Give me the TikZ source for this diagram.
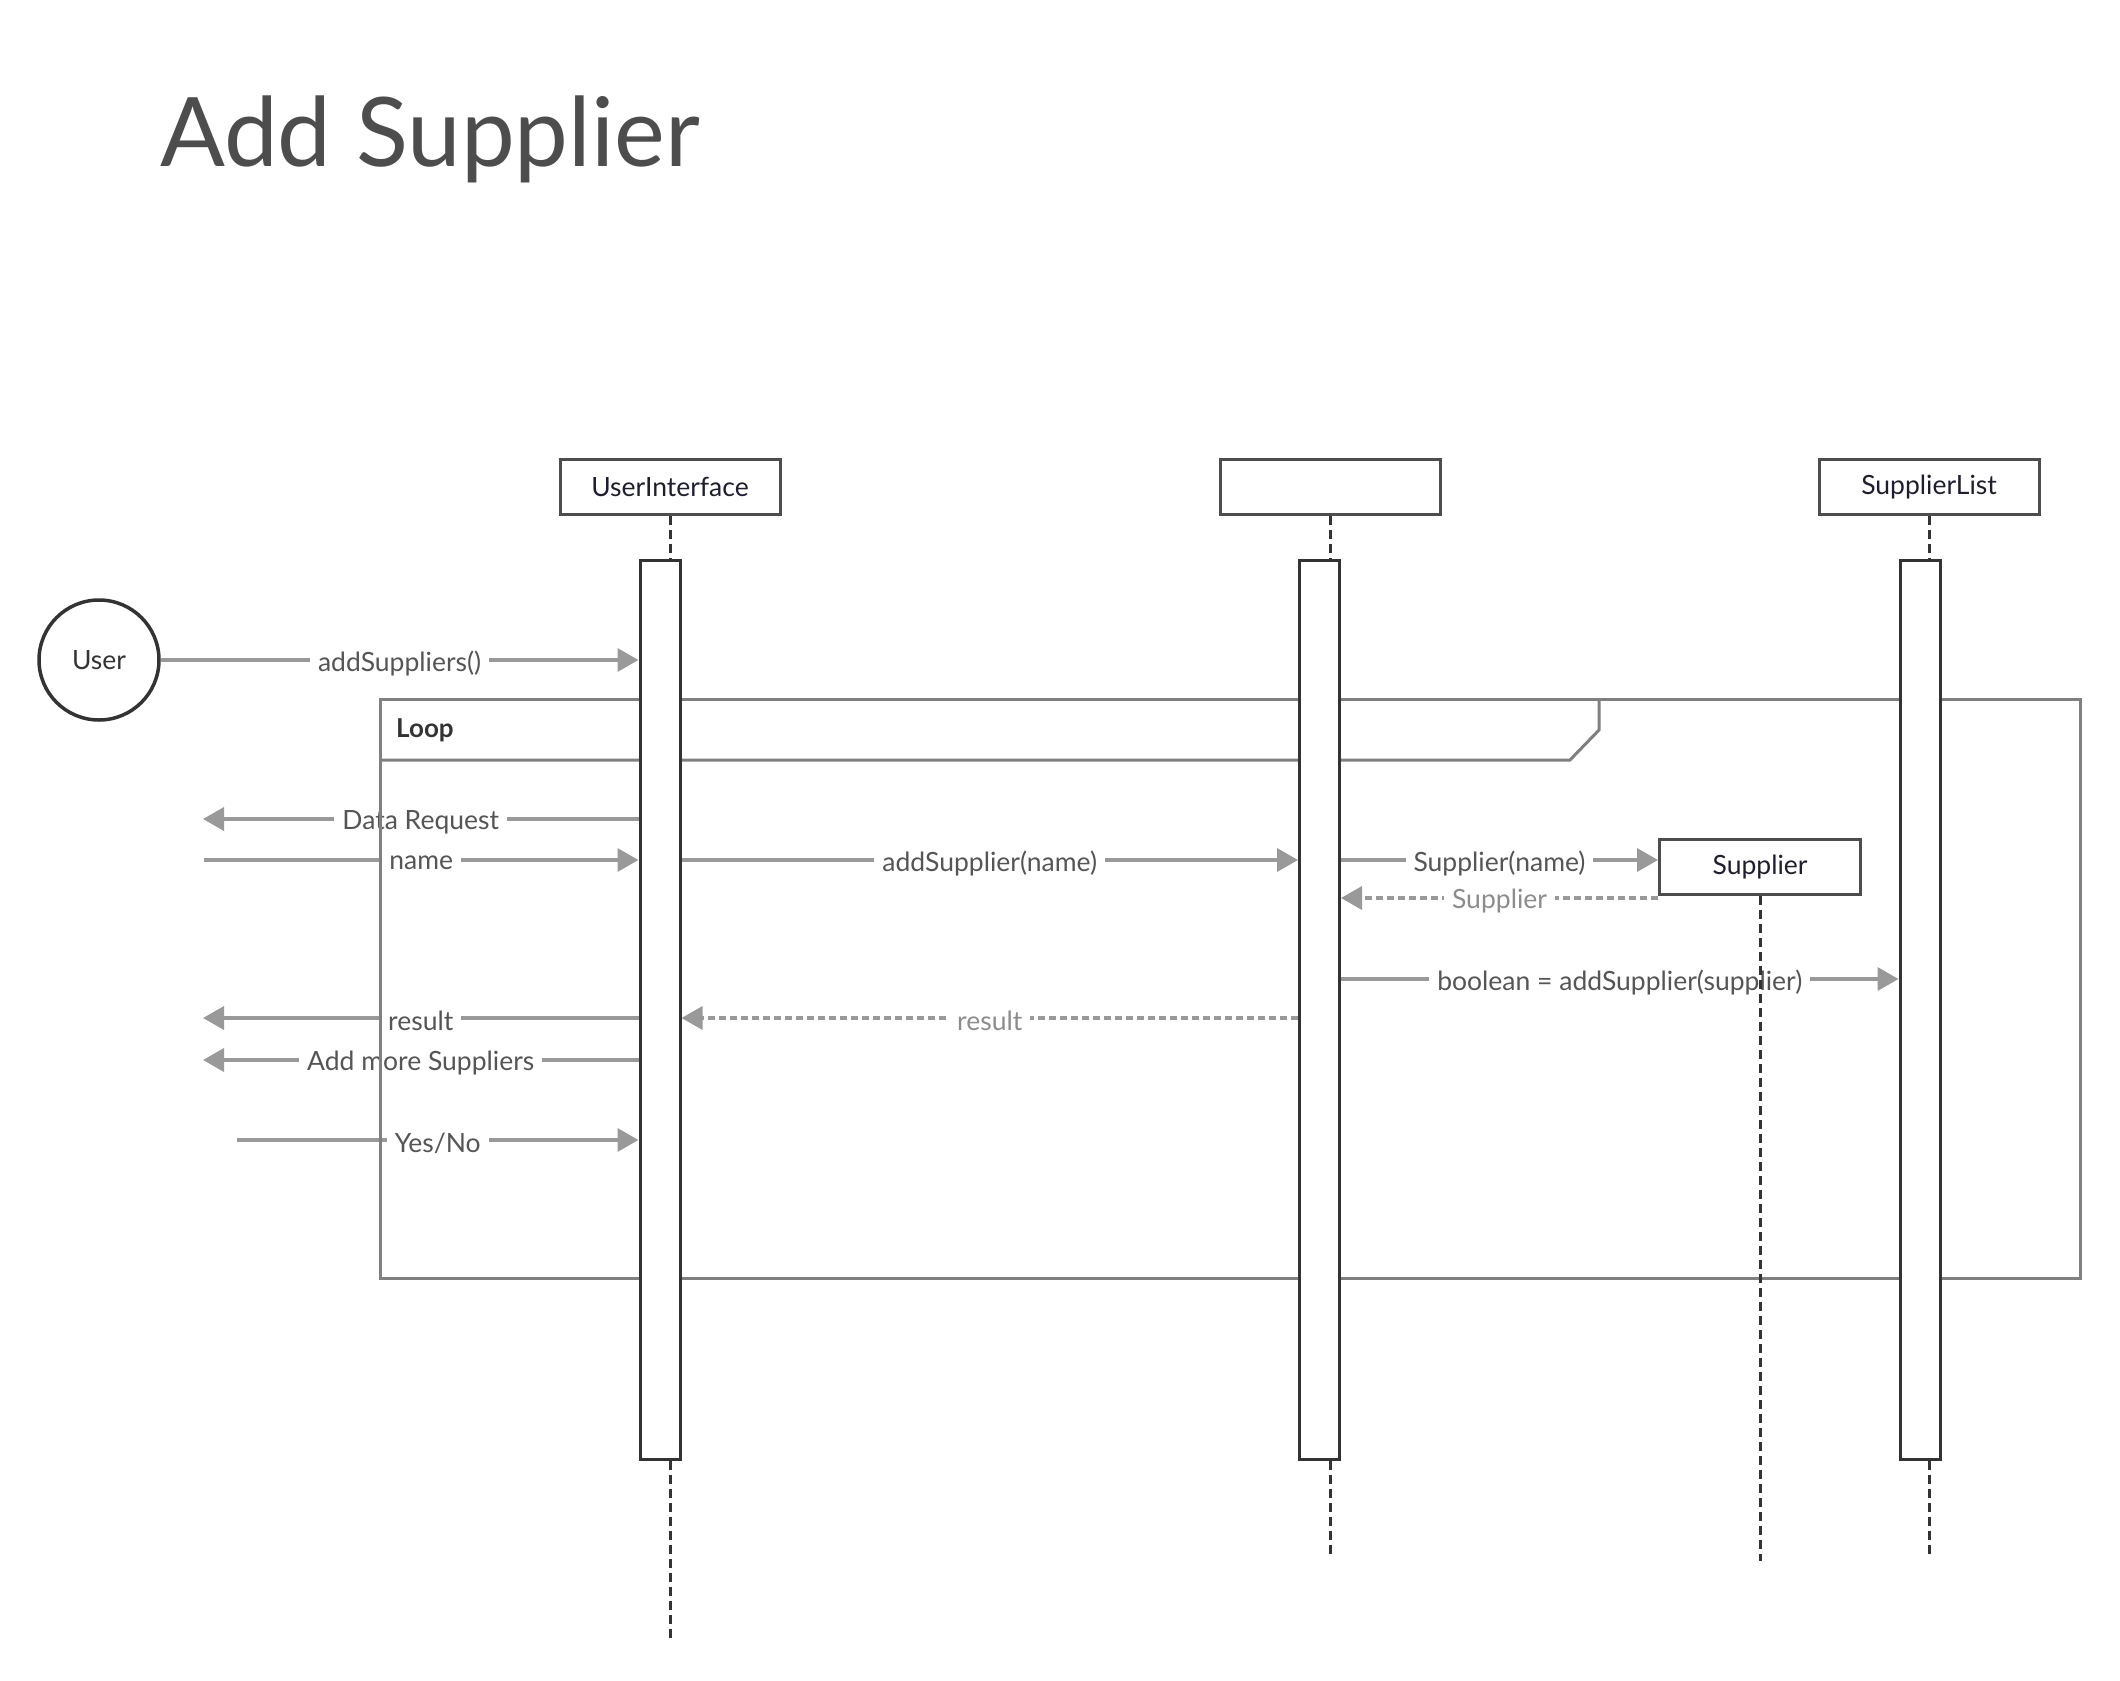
\documentclass[tikz,border=0pt]{standalone}
\usepackage{fontspec}
\setmainfont{Lato}
\usepackage{xcolor}
\usepackage{tikz}
\usetikzlibrary{arrows.meta,backgrounds}

\definecolor{msggray}{HTML}{999999}
\definecolor{txtgray}{HTML}{555555}
\definecolor{retgray}{HTML}{8C8C8C}
\definecolor{boxline}{HTML}{4D4D4D}
\definecolor{barline}{HTML}{333333}
\definecolor{framegray}{HTML}{808080}
\definecolor{headtext}{HTML}{1E1E30}

\begin{document}
\begin{tikzpicture}[
    x=1pt, y=-1pt,
    head/.style={rectangle, draw=boxline, line width=3pt, fill=white, minimum width=220pt, minimum height=55pt, inner sep=0pt, text=headtext, font=\fontsize{26.5}{32}\selectfont},
    bar/.style={rectangle, draw=barline, line width=3pt, fill=white, minimum width=40pt, minimum height=899pt, inner sep=0pt},
    actor/.style={circle, draw=barline, line width=3.5pt, minimum size=120pt, inner sep=0pt, text=barline, font=\fontsize{26.5}{32}\selectfont},
    life/.style={draw=barline, line width=3pt, dash pattern=on 9pt off 5pt},
    msg/.style={draw=msggray, line width=3.5pt, -{Triangle[length=21pt,width=23pt]}},
    ret/.style={msg, dash pattern=on 7pt off 4pt},
    lbl/.style={fill=white, text=txtgray, inner xsep=8pt, inner ysep=2pt, yshift=-3pt, font=\fontsize{26.5}{32}\selectfont},
    retlbl/.style={lbl, text=retgray},
    frame/.style={draw=framegray, line width=3pt}
]
\useasboundingbox (0,0) rectangle (2120,1681);

% Title
\node[anchor=base west, inner sep=0pt, text=boxline, font=\fontsize{96}{115}\selectfont] (title) at (160,166) {Add Supplier};

% Loop frame
\draw[frame] (380,699) rectangle (2080,1278);
\draw[frame] (380,760) -- (1570,760) -- (1599,730) -- (1599,699);
\node[anchor=west, inner sep=0pt, text=barline, font=\fontsize{26}{31}\selectfont\bfseries] (loopLbl) at (396,730) {Loop};

% Participants
\node[head] (uiHead) at (670,487) {UserInterface};
\node[head] (ctrlHead) at (1330,487) {};
\node[head] (listHead) at (1929,487) {SupplierList};
\node[actor] (user) at (99,660) {User};

% Activation bars
\node[bar] (uiBar) at (660,1009.5) {};
\node[bar] (ctrlBar) at (1319.5,1009.5) {};
\node[bar] (listBar) at (1920,1009.5) {};

% Lifelines
\coordinate (uiEnd) at (670,1639);
\coordinate (ctrlEnd) at (1330,1555);
\coordinate (listEnd) at (1929,1555);
\draw[life] (uiHead.south) -- (uiHead.south |- uiBar.north);
\draw[life] (uiHead.south |- uiBar.south) -- (uiEnd);
\draw[life] (ctrlHead.south) -- (ctrlHead.south |- ctrlBar.north);
\draw[life] (ctrlHead.south |- ctrlBar.south) -- (ctrlEnd);
\draw[life] (listHead.south) -- (listHead.south |- listBar.north);
\draw[life] (listHead.south |- listBar.south) -- (listEnd);

% Created object
\node[head, minimum width=201pt] (supplier) at (1760,867) {Supplier};
\coordinate (supEnd) at (1760,1561);
\draw[life] (supplier.south) -- (supEnd);

% Messages
\coordinate (outReq) at (203,819);
\coordinate (inName) at (204,860);
\coordinate (outRes) at (203,1018);
\coordinate (outMore) at (203,1060);
\coordinate (inYes) at (237,1140);
\begin{scope}[on background layer]
\draw[msg] (user) -- node[lbl] {addSuppliers()} (uiBar.west |- user);
\draw[msg] (uiBar.west |- outReq) -- node[lbl] {Data Request} (outReq);
\draw[msg] (inName) -- node[lbl] {name} (uiBar.west |- inName);
\draw[msg] (uiBar.east |- inName) -- node[lbl] {addSupplier(name)} (ctrlBar.west |- inName);
\draw[msg] (ctrlBar.east |- inName) -- node[lbl] {Supplier(name)} (supplier.west |- inName);
\draw[ret] ([yshift=-2pt]supplier.south west) -- node[retlbl] {Supplier} (ctrlBar.east |- 0,898);
\draw[msg] (ctrlBar.east |- 0,979) -- node[lbl] {boolean = addSupplier(supplier)} (listBar.west |- 0,979);
\draw[ret] (ctrlBar.west |- outRes) -- node[retlbl] {result} (uiBar.east |- outRes);
\draw[msg] (uiBar.west |- outRes) -- node[lbl] {result} (outRes);
\draw[msg] (uiBar.west |- outMore) -- node[lbl] {Add more Suppliers} (outMore);
\draw[msg] (inYes) -- node[lbl] {Yes/No} (uiBar.west |- inYes);
\end{scope}

\end{tikzpicture}
\end{document}
